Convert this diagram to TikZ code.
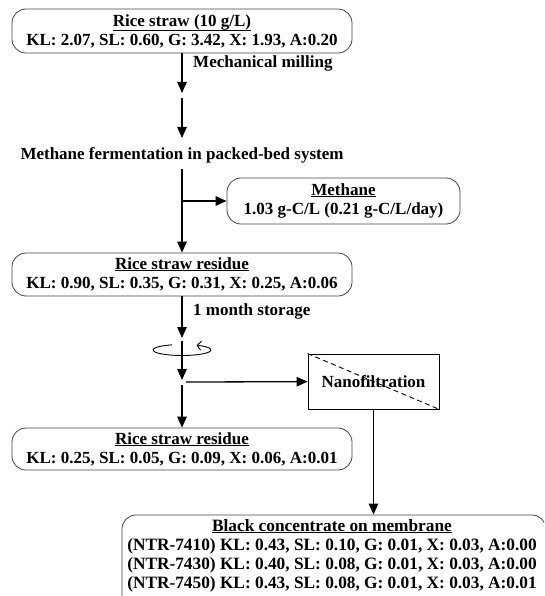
\documentclass[tikz,border=0pt]{standalone}
\usepackage{fontspec}
\setmainfont{Liberation Serif}
\usetikzlibrary{arrows.meta,calc}
\definecolor{boxgray}{HTML}{444444}
\newcommand\myuline[1]{\vtop{\hbox{#1}\kern0.6pt\hrule height 1pt}}
\tikzset{
  rbox/.style={draw=boxgray, line width=0.8pt, rounded corners=14pt, align=center, inner sep=0pt,
    font=\fontsize{17}{19}\selectfont\bfseries},
  lbl/.style={inner sep=0pt, font=\fontsize{17}{19}\selectfont\bfseries},
  arr/.style={line width=1.3pt, -{Triangle[length=11pt,width=9.5pt]}},
  plain/.style={line width=1.3pt}
}
\begin{document}
\begin{tikzpicture}[x=1pt,y=-1pt]
\useasboundingbox (0,0) rectangle (544,596);
\clip (0,0) rectangle (544,596);
% boxes
\node[rbox, minimum width=340pt, minimum height=44pt] (b1) at (182,31)
  {\myuline{Rice straw (10 g/L)}\\KL: 2.07, SL: 0.60, G: 3.42, X: 1.93, A:0.20};
\node[lbl, anchor=west] (mill) at (193,63) {Mechanical milling};
\coordinate (m1) at (182,93);
\coordinate (m2) at (182,98);
\coordinate (m3) at (182,138);
\node[lbl] (ferm) at (182,155) {Methane fermentation in packed-bed system};
\coordinate (f1) at (182,169);
\coordinate (j1) at (182,201);
\node[rbox, minimum width=233pt, minimum height=46pt] (meth) at (343.5,201)
  {\myuline{Methane}\\1.03 g-C/L (0.21 g-C/L/day)};
\node[rbox, minimum width=340pt, minimum height=43pt] (b2) at (182,274.5)
  {\myuline{Rice straw residue}\\KL: 0.90, SL: 0.35, G: 0.31, X: 0.25, A:0.06};
\node[lbl, anchor=west] (store) at (193,311) {1 month storage};
\coordinate (s1) at (182,338);
\coordinate (s2) at (182,341);
\coordinate (rot) at (182,350);
\coordinate (s3) at (182,380);
\coordinate (j2) at (186,382);
\coordinate (s4) at (182,385);
\node[draw=black, line width=0.9pt, minimum width=131pt, minimum height=55pt, inner sep=0pt] (nano) at (373.5,381.5) {};
\draw[dashed, dash pattern=on 5pt off 3.5pt, line width=0.9pt] (nano.north west) -- (nano.south east);
\node[lbl] (nanot) at (nano.center) {Nanofiltration};
\node[rbox, minimum width=340pt, minimum height=42pt] (b3) at (182,449)
  {\myuline{Rice straw residue}\\KL: 0.25, SL: 0.05, G: 0.09, X: 0.06, A:0.01};
\node[draw=boxgray, line width=0.8pt, rounded corners=14pt, minimum width=424pt, minimum height=100pt, inner sep=0pt] (b4) at (334,565) {};
\node[lbl, align=center, anchor=north, font=\fontsize{17.3}{19}\selectfont\bfseries] (b4t) at (332,519)
  {\myuline{Black concentrate on membrane}\\(NTR-7410) KL: 0.43, SL: 0.10, G: 0.01, X: 0.03, A:0.00\\(NTR-7430) KL: 0.40, SL: 0.08, G: 0.01, X: 0.03, A:0.00\\(NTR-7450) KL: 0.43, SL: 0.08, G: 0.01, X: 0.03, A:0.01};
% connectors
\draw[arr] (b1) -- (m1);
\draw[arr] (m2) -- (m3);
\draw[arr] (f1) -- (b2);
\draw[arr] (j1) -- (meth);
\draw[arr] (b2) -- (s1);
\draw[arr] (s2) -- (s3);
\draw[arr] (j2) -- (nano);
\draw[arr] (s4) -- (b3);
\draw[arr] (nano.south) -- (nano.south |- b4.north);
% rotation symbol
\draw[line width=0.9pt, {Straight Barb[length=4pt,width=9pt]}-] ($(rot)+(-60:29 and 5.5)$) arc[start angle=-60, end angle=250, x radius=29, y radius=5.5];
\end{tikzpicture}
\end{document}
